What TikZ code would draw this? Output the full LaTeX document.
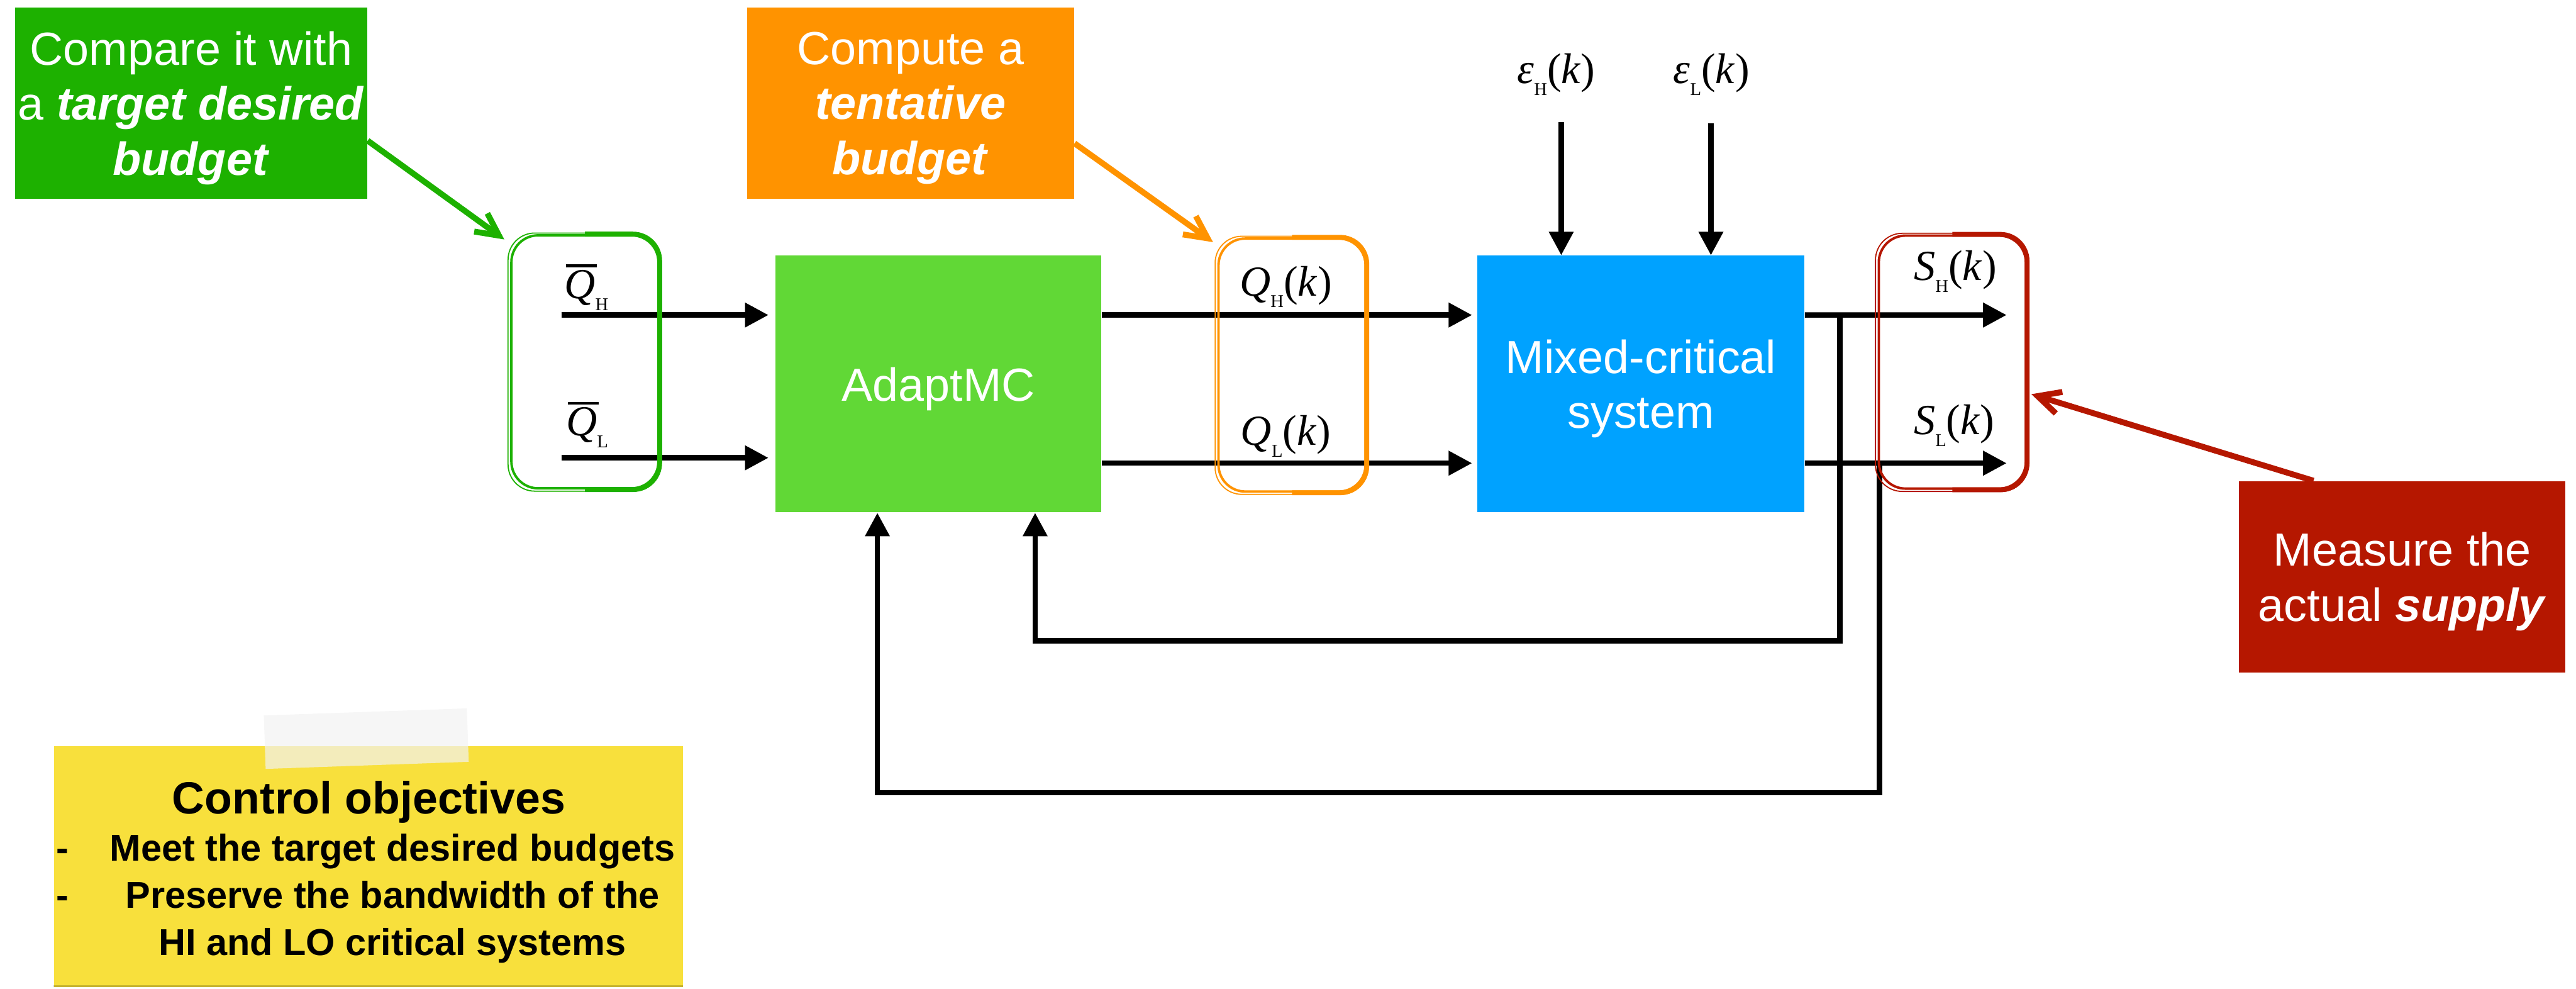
\documentclass[tikz,border=0pt]{standalone}
\usepackage{fontspec}
\setmainfont{Liberation Sans}
\newfontfamily\symfont{Liberation Serif}
\usetikzlibrary{arrows.meta}

\definecolor{kgreen}{HTML}{1DB100}
\definecolor{klime}{HTML}{61D836}
\definecolor{korange}{HTML}{FF9300}
\definecolor{kblue}{HTML}{00A2FF}
\definecolor{kred}{HTML}{B51700}
\definecolor{kyellow}{HTML}{F8E03C}

% signal names: italic letter, small upright index hanging below, (k)
\newcommand{\hang}[1]{\raisebox{-6.3pt}{\fontsize{9.6}{10}\selectfont #1}}
\newcommand{\ofk}{(\textit{k})}
\newcommand{\sig}[2]{\textit{#1}\hang{#2}\ofk}
\newcommand{\qbar}[1]{\rlap{\hspace{0.04em}\rule[0.73em]{0.72em}{1.4pt}}\textit{Q}\hang{#1}}

\begin{document}
\begin{tikzpicture}
    [block/.style={rectangle, inner sep=0pt, minimum width=6.1cm, minimum height=4.8cm,
        text=white, align=center, text depth=0pt, font=\fontsize{24.7}{29.3}\selectfont},
    remark/.style={rectangle, inner sep=0pt, minimum height=3.58cm,
        text=white, align=center, text depth=0pt, font=\fontsize{24.7}{29.3}\selectfont},
    sym/.style={inner sep=0pt, anchor=base west, font=\symfont\fontsize{22.8}{24}\selectfont},
    sig/.style={line width=0.1cm, -{Triangle[length=0.44cm, width=0.44cm]}},
    pointer/.style={line width=0.11cm, -{Straight Barb[length=0.42cm, width=0.42cm]}},
    sketch/.style={rectangle, inner sep=0pt, minimum width=2.75cm, minimum height=4.73cm,
        rounded corners=0.5cm, line width=1.3pt},
    tape/.style={rectangle, fill=black!5, fill opacity=0.7, minimum width=3.8cm, minimum height=1.0cm},
    heading/.style={anchor=base, inner sep=0pt, font=\bfseries\fontsize{24}{28}\selectfont},
    item/.style={anchor=base, inner sep=0pt, font=\bfseries\fontsize{19.9}{25}\selectfont}]

    \useasboundingbox (0,0) rectangle (48.18,-18.48);

    % call-outs
    \node[remark, fill=kgreen, minimum width=6.59cm] (cmp) at (3.575,-1.93)
        {Compare it with\\a \textbf{\textit{target desired}}\\\textbf{\textit{budget}}};
    \node[remark, fill=korange, minimum width=6.12cm] (tent) at (17.03,-1.93)
        {Compute a\\\textbf{\textit{tentative}}\\\textbf{\textit{budget}}};
    \node[remark, fill=kred, minimum width=6.10cm] (meas) at (44.93,-10.785)
        {Measure the\\actual \textbf{\textit{supply}}};

    % loop blocks
    \node[block, fill=klime] (adapt) at (17.55,-7.18) {AdaptMC};
    \node[block, fill=kblue, minimum width=6.12cm] (msys) at (30.69,-7.18) {Mixed-critical\\system};

    % free ends of the signals
    \coordinate (qHin) at (10.50,-5.89);
    \coordinate (qLin) at (10.50,-8.56);
    \coordinate (sHout) at (37.53,-5.89);
    \coordinate (sLout) at (37.53,-8.66);
    \coordinate (brH) at (34.41,-5.89);
    \coordinate (brL) at (35.15,-8.66);
    \coordinate (epsHtop) at (29.20,-2.28);
    \coordinate (epsLtop) at (32.00,-2.31);

    % forward path
    \draw[sig, shorten >=0.12cm] (qHin) -- (qHin -| adapt.west);
    \draw[sig, shorten >=0.12cm] (qLin) -- (qLin -| adapt.west);
    \draw[sig, shorten >=0.09cm] ([yshift=1.29cm]adapt.east) -- ([yshift=1.29cm]msys.west);
    \draw[sig, shorten >=0.09cm] ([yshift=-1.48cm]adapt.east) -- ([yshift=-1.48cm]msys.west);
    \draw[sig] ([yshift=1.29cm]msys.east) -- (sHout);
    \draw[sig] ([yshift=-1.48cm]msys.east) -- (sLout);

    % disturbances
    \draw[sig] (epsHtop) -- (epsHtop |- msys.north);
    \draw[sig] (epsLtop) -- (epsLtop |- msys.north);

    % feedback
    \draw[sig] (brH) -- ++(0,-6.09) -| ([xshift=1.81cm]adapt.south);
    \draw[sig] (brL) -- ++(0,-6.16) -| ([xshift=-1.14cm]adapt.south);

    % signal names
    \node[sym] (qrefH) at (10.55,-5.58) {\qbar{H}};
    \node[sym] (qrefL) at (10.58,-8.15) {\qbar{L}};
    \node[sym] (qH) at (23.18,-5.53) {\sig{Q}{H}};
    \node[sym] (qL) at (23.20,-8.32) {\sig{Q}{L}};
    \node[sym] (sH) at (35.79,-5.24) {\sig{S}{H}};
    \node[sym] (sL) at (35.79,-8.12) {\sig{S}{L}};
    \node[sym] (epsH) at (28.37,-1.56) {\sig{ε}{H}};
    \node[sym] (epsL) at (31.29,-1.56) {\sig{ε}{L}};

    % hand drawn frames
    \node[sketch, draw=kgreen] (qref) at (10.94,-6.765) {};
    \draw[kgreen, line width=0.6pt, rounded corners=0.5cm]
        ([shift={(-0.04,0.02)}]qref.north west) rectangle ([shift={(0.02,-0.03)}]qref.south east);
    \draw[kgreen, line width=2.6pt, rounded corners=0.5cm] (qref.north) -| (qref.south east) -- (qref.south);

    \node[sketch, draw=korange] (qbox) at (24.165,-6.825) {};
    \draw[korange, line width=0.6pt, rounded corners=0.5cm]
        ([shift={(-0.04,0.02)}]qbox.north west) rectangle ([shift={(0.02,-0.03)}]qbox.south east);
    \draw[korange, line width=2.6pt, rounded corners=0.5cm] (qbox.north) -| (qbox.south east) -- (qbox.south);

    \node[sketch, draw=kred] (sbox) at (36.515,-6.77) {};
    \draw[kred, line width=0.6pt, rounded corners=0.5cm]
        ([shift={(-0.04,0.02)}]sbox.north west) rectangle ([shift={(0.02,-0.03)}]sbox.south east);
    \draw[kred, line width=2.6pt, rounded corners=0.5cm] (sbox.north) -| (sbox.south east) -- (sbox.south);

    % pointers from the call-outs
    \draw[pointer, kgreen] ([yshift=-0.7cm]cmp.east) -- ([shift={(-0.11,-0.10)}]qref.north west);
    \draw[pointer, korange] ([yshift=-0.75cm]tent.east) -- ([shift={(-0.08,-0.09)}]qbox.north west);
    \draw[pointer, kred] ([xshift=-1.66cm]meas.north) -- ([shift={(0.08,-0.60)}]sbox.east);

    % sticky note
    \node[rectangle, fill=kyellow, minimum width=11.76cm, minimum height=4.5cm] (objnote) at (6.89,-16.20) {};
    \fill[black, opacity=0.2] (objnote.south west) rectangle ([yshift=0.04cm]objnote.south east);
    \node[tape, rotate=2] (strip) at (6.85,-13.81) {};
    \node[heading] (objtitle) at (6.90,-15.21) {Control objectives};
    \node[item] (obj1) at (7.34,-16.10) {Meet the target desired budgets};
    \node[item] (obj2) at (7.34,-16.98) {Preserve the bandwidth of the};
    \node[item] (obj3) at (7.34,-17.86) {HI and LO critical systems};
    \node[item, anchor=base west] (dash1) at (1.05,-16.10) {-};
    \node[item, anchor=base west] (dash2) at (1.05,-16.98) {-};

\end{tikzpicture}
\end{document}
